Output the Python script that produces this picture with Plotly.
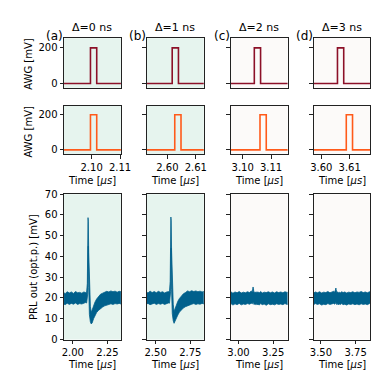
import plotly.graph_objects as go

W = H = 384

# panel labels
tags = ["(a)", "(b)", "(c)", "(d)"]
deltas = ["Δ=0 ns", "Δ=1 ns", "Δ=2 ns", "Δ=3 ns"]
panel_bg = ["#e6f4ee", "#e6f4ee", "#fcfaf9", "#fcfaf9"]

# AWG windows and pulses [us]
awg_xmin = [2.0903, 2.5928, 3.0958, 3.5973]
awg_xmax = [2.1103, 2.6128, 3.1158, 3.6173]
awg_xticks = [[2.10, 2.11], [2.60, 2.61], [3.10, 3.11], [3.60, 3.61]]
awg1_on = [2.0996, 2.6017, 3.1041, 3.6057]
awg2_on = [2.0996, 2.6026, 3.1061, 3.6088]
pulse_width = 0.0022
pulse_amp = 200

# PRL output windows [us]
prl_xmin = [1.937, 2.437, 2.944, 3.447]
prl_span = 0.41
prl_xticks = [[2.00, 2.25], [2.50, 2.75], [3.00, 3.25], [3.50, 3.75]]
prl_t0 = [2.100, 2.600, 3.100, 3.600]

# time offsets from t0 and the upper / lower edge of the noisy trace [mV]
t_rel = [-0.17, -0.155, -0.14, -0.125, -0.11, -0.095, -0.08, -0.065, -0.05, -0.035,
         -0.02, -0.008, 0.0, 0.005, 0.008, 0.010, 0.012, 0.015, 0.020, 0.027, 0.033,
         0.040, 0.050, 0.060, 0.072, 0.085, 0.10, 0.115, 0.13, 0.145, 0.16, 0.175,
         0.19, 0.205, 0.22, 0.235, 0.25, 0.265]

prl_hi = [
    [22.8, 22.1, 23.0, 22.4, 22.9, 22.2, 23.1, 22.5, 22.7, 22.3, 22.9, 22.6, 22.8,
     27.0, 45.0, 58.7, 57.0, 42.0, 26.0, 16.0, 13.0, 14.5, 16.5, 18.0, 19.5, 20.8,
     21.8, 22.3, 22.8, 23.2, 22.9, 23.4, 23.0, 23.3, 22.8, 23.2, 23.0, 22.7],
    [23.0, 22.4, 23.3, 22.6, 23.1, 22.5, 23.2, 22.7, 23.0, 22.4, 22.9, 23.0, 23.1,
     28.0, 46.0, 59.0, 57.5, 43.0, 27.0, 17.0, 13.5, 14.8, 16.8, 18.4, 19.8, 21.0,
     22.0, 22.6, 23.4, 23.0, 23.5, 23.1, 23.4, 23.0, 23.3, 22.9, 23.2, 22.8],
    [22.6, 23.0, 22.3, 22.9, 22.5, 23.1, 22.4, 22.8, 22.5, 23.0, 22.6, 23.4, 23.0,
     25.3, 24.5, 23.2, 22.8, 22.9, 22.4, 23.0, 22.6, 22.9, 22.5, 23.1, 22.4, 22.8,
     22.6, 23.0, 22.5, 22.9, 22.4, 23.0, 22.6, 22.9, 22.5, 23.0, 22.7, 22.8],
    [22.7, 22.3, 22.9, 22.5, 23.0, 22.4, 22.8, 22.6, 23.1, 22.5, 22.9, 23.2, 22.8,
     23.6, 24.8, 23.9, 22.9, 22.6, 23.0, 22.4, 22.8, 22.5, 23.0, 22.6, 22.9, 22.4,
     22.8, 22.6, 23.0, 22.5, 22.9, 22.7, 23.1, 22.6, 22.9, 22.5, 23.0, 22.9],
]
prl_lo = [
    [17.2, 16.8, 17.5, 16.9, 17.4, 17.0, 17.6, 16.9, 17.3, 17.1, 17.4, 17.8, 17.6,
     18.0, 22.0, 30.0, 45.0, 25.0, 12.0, 8.5, 7.5, 8.0, 10.0, 11.5, 13.0, 14.0,
     15.0, 15.6, 16.2, 16.5, 16.9, 17.2, 16.9, 17.3, 17.1, 17.4, 17.0, 17.3],
    [17.0, 17.4, 16.8, 17.2, 17.5, 16.9, 17.3, 17.0, 17.4, 16.9, 17.3, 17.6, 17.5,
     18.5, 23.0, 32.0, 44.0, 24.0, 12.5, 9.0, 7.8, 8.4, 10.2, 11.8, 13.2, 14.3,
     15.2, 15.8, 16.3, 16.7, 17.0, 17.3, 16.9, 17.2, 17.0, 17.4, 17.1, 17.3],
    [16.9, 17.3, 16.6, 17.2, 16.8, 17.4, 16.7, 17.1, 16.9, 17.3, 17.0, 17.5, 17.2,
     18.0, 17.6, 17.2, 16.9, 17.1, 16.8, 17.2, 16.7, 17.0, 16.6, 17.3, 16.8, 17.1,
     16.5, 17.2, 16.8, 17.0, 16.7, 17.2, 16.9, 17.1, 16.8, 17.3, 16.9, 17.0],
    [17.1, 16.7, 17.3, 16.9, 17.2, 16.6, 17.0, 16.8, 17.3, 16.9, 17.2, 17.4, 17.0,
     17.5, 17.8, 17.4, 17.0, 16.8, 17.2, 16.7, 17.1, 16.9, 17.3, 16.8, 17.0, 16.6,
     17.1, 16.9, 17.2, 16.8, 17.1, 16.7, 17.2, 16.9, 17.1, 16.8, 17.3, 17.0],
]

AWG1_COLOR = "#8c1028"
AWG2_COLOR = "#ff5a1a"
PRL_COLOR = "#00608c"
FONT = "DejaVu Sans"

col_px = [(54, 113), (140, 199), (227, 286), (313, 372)]
row_px = [(25, 76), (95, 145), (186, 336)]
awg_yrange = [[-23, 254], [-26, 250]]


def px_x(v):
    return v / W


def px_y(v):
    return 1 - v / H


fig = go.Figure()
layout = {}
shapes = []


def pulse_xy(c, t_on):
    xs = [awg_xmin[c] - 0.001, t_on, t_on, t_on + pulse_width, t_on + pulse_width, awg_xmax[c] + 0.001]
    ys = [0, 0, pulse_amp, pulse_amp, 0, 0]
    return xs, ys


for r in range(3):
    for c in range(4):
        k = r * 4 + c + 1
        sfx = "" if k == 1 else str(k)
        xa, ya = "x" + sfx, "y" + sfx
        if r == 0:
            xs, ys = pulse_xy(c, awg1_on[c])
            fig.add_trace(go.Scatter(x=xs, y=ys, mode="lines", line=dict(color=AWG1_COLOR, width=1.6),
                                     xaxis=xa, yaxis=ya, showlegend=False))
        elif r == 1:
            xs, ys = pulse_xy(c, awg2_on[c])
            fig.add_trace(go.Scatter(x=xs, y=ys, mode="lines", line=dict(color=AWG2_COLOR, width=1.6),
                                     xaxis=xa, yaxis=ya, showlegend=False))
        else:
            ts = [prl_t0[c] + t for t in t_rel]
            xs = ts + ts[::-1]
            ys = prl_hi[c] + prl_lo[c][::-1]
            fig.add_trace(go.Scatter(x=xs, y=ys, mode="lines", fill="toself", fillcolor=PRL_COLOR,
                                     line=dict(color=PRL_COLOR, width=0.8),
                                     xaxis=xa, yaxis=ya, showlegend=False))

        common = dict(showline=True, mirror=True, linecolor="#222", linewidth=1,
                      showgrid=False, zeroline=False, ticks="outside", ticklen=3.5,
                      tickwidth=1, tickcolor="#222",
                      tickfont=dict(family=FONT, size=10, color="black"))
        xdom = [px_x(col_px[c][0]), px_x(col_px[c][1])]
        ydom = [px_y(row_px[r][1]), px_y(row_px[r][0])]
        if r < 2:
            xr = [awg_xmin[c], awg_xmax[c]]
            xticks = awg_xticks[c]
            yr = awg_yrange[r]
            yticks = [0, 200]
        else:
            xr = [prl_xmin[c], prl_xmin[c] + prl_span]
            xticks = prl_xticks[c]
            yr = [0, 70]
            yticks = list(range(0, 71, 10))
        xaxis = dict(common, domain=xdom, range=xr, anchor=ya, tickvals=xticks,
                     ticktext=[f"{v:.2f}" for v in xticks])
        if r == 0:
            xaxis.update(showticklabels=False, ticks="")
        yaxis = dict(common, domain=ydom, range=yr, anchor=xa, tickvals=yticks,
                     showticklabels=(c == 0))
        layout["xaxis" + sfx] = xaxis
        layout["yaxis" + sfx] = yaxis
        shapes.append(dict(type="rect", xref=f"{xa} domain", yref=f"{ya} domain",
                           x0=0, x1=1, y0=0, y1=1, fillcolor=panel_bg[c],
                           line=dict(width=0), layer="below"))

annotations = []
txt = dict(family=FONT, size=10, color="black")
for c in range(4):
    cx = px_x((col_px[c][0] + col_px[c][1]) / 2)
    annotations.append(dict(text=deltas[c], x=cx, y=px_y(14), xref="paper", yref="paper",
                            showarrow=False, font=dict(txt, size=11), xanchor="center", yanchor="middle"))
    annotations.append(dict(text=tags[c], x=px_x(col_px[c][0] + 1), y=px_y(23), xref="paper",
                            yref="paper", showarrow=False, font=dict(txt, size=12),
                            xanchor="right", yanchor="middle"))
    for yy in (172, 362):
        annotations.append(dict(text="Time [<i>μs</i>]", x=cx, y=px_y(yy), xref="paper",
                                yref="paper", showarrow=False, font=txt,
                                xanchor="center", yanchor="middle"))
for yy in (51, 121):
    annotations.append(dict(text="AWG [mV]", x=px_x(17), y=px_y(yy), xref="paper", yref="paper",
                            showarrow=False, font=txt, textangle=-90,
                            xanchor="center", yanchor="middle"))
annotations.append(dict(text="PRL out (opt.p.) [mV]", x=px_x(23), y=px_y(261), xref="paper",
                        yref="paper", showarrow=False, font=txt, textangle=-90,
                        xanchor="center", yanchor="middle"))

fig.update_layout(width=W, height=H, margin=dict(l=0, r=0, t=0, b=0),
                  paper_bgcolor="white", plot_bgcolor="rgba(0,0,0,0)",
                  shapes=shapes, annotations=annotations, **layout)
fig.write_html("out.html")
